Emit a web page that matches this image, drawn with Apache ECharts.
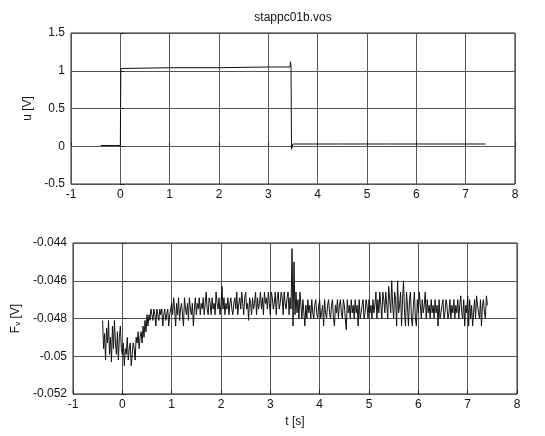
<!DOCTYPE html>
<html>
<head>
<meta charset="utf-8">
<script src="https://cdn.jsdelivr.net/npm/echarts@6/dist/echarts.min.js"></script>
<style>
html,body{margin:0;padding:0;background:#fff;}
#chart{width:545px;height:436px;}
</style>
</head>
<body>
<div id="chart"></div>
<script>
// ---- data ----
var titleText = 'stappc01b.vos';
var xTicks = [-1, 0, 1, 2, 3, 4, 5, 6, 7, 8];
var uTicks = [-0.5, 0, 0.5, 1, 1.5];
var fvTicks = [-0.052, -0.05, -0.048, -0.046, -0.044];

// control voltage u [V] (step at t=0, step down at t~3.46)
var uTime  = [-0.40, 0.00, 0.01, 1.00, 2.00, 3.00, 3.44, 3.45, 3.46, 3.47, 3.50, 4.50, 5.50, 6.50, 7.40];
var uValue = [0.01, 0.01, 1.03, 1.04, 1.04, 1.05, 1.05, 1.12, 1.05, -0.04, 0.03, 0.03, 0.03, 0.03, 0.03];

// measured signal F_v [V], sampled every 0.02 s starting at t = -0.40 s
var fvStart = -0.40;
var fvStep = 0.02;
var fvValue = [
 // -0.40 .. -0.02
 -0.0481,-0.0496,-0.0488,-0.0502,-0.0485,-0.0493,-0.0481,-0.0499,-0.0490,-0.0503,
 -0.0484,-0.0496,-0.0481,-0.0493,-0.0499,-0.0487,-0.0502,-0.0490,-0.0484,-0.0496,
 // 0.00 .. 0.28
 -0.0499,-0.0493,-0.0505,-0.0496,-0.0499,-0.0490,-0.0502,-0.0496,-0.0493,-0.0505,
 -0.0499,-0.0493,-0.0496,-0.0502,-0.0490,
 // 0.30 .. 0.44
 -0.0493,-0.0487,-0.0496,-0.0490,-0.0487,-0.0493,-0.0484,-0.0490,
 // 0.46 .. 0.56
 -0.0481,-0.0487,-0.0478,-0.0484,-0.0478,-0.0481,
 // 0.58 .. 0.98
 -0.0475,-0.0478,-0.0481,-0.0475,-0.0478,-0.0484,-0.0475,-0.0478,-0.0481,-0.0475,
 -0.0478,-0.0475,-0.0484,-0.0478,-0.0475,-0.0481,-0.0478,-0.0475,-0.0484,-0.0478,
 -0.0475,
 // 1.00 .. 3.42
 -0.0472,-0.0478,-0.0469,-0.0475,-0.0484,-0.0472,-0.0478,-0.0469,-0.0481,-0.0475,
 -0.0472,-0.0478,-0.0484,-0.0469,-0.0475,-0.0478,-0.0472,-0.0481,-0.0469,-0.0475,
 -0.0478,-0.0472,-0.0484,-0.0475,-0.0469,-0.0478,-0.0472,-0.0475,-0.0469,-0.0478,
 -0.0472,-0.0475,-0.0469,-0.0478,-0.0472,-0.0466,-0.0475,-0.0478,-0.0469,-0.0472,
 -0.0478,-0.0469,-0.0475,-0.0472,-0.0478,-0.0466,-0.0472,-0.0475,-0.0469,-0.0478,
 -0.0472,-0.0463,-0.0475,-0.0469,-0.0478,-0.0472,-0.0475,-0.0469,-0.0478,-0.0472,
 -0.0469,-0.0475,-0.0478,-0.0472,-0.0469,-0.0475,-0.0466,-0.0478,-0.0472,-0.0469,
 -0.0475,-0.0466,-0.0472,-0.0478,-0.0469,-0.0466,-0.0475,-0.0472,-0.0481,-0.0469,
 -0.0472,-0.0478,-0.0469,-0.0475,-0.0472,-0.0466,-0.0478,-0.0469,-0.0475,-0.0472,
 -0.0466,-0.0475,-0.0469,-0.0478,-0.0466,-0.0472,-0.0469,-0.0475,-0.0466,-0.0472,
 -0.0478,-0.0466,-0.0469,-0.0475,-0.0472,-0.0466,-0.0478,-0.0469,-0.0466,-0.0475,
 -0.0472,-0.0466,-0.0469,-0.0478,-0.0466,-0.0472,-0.0475,-0.0469,-0.0466,-0.0478,
 -0.0469,-0.0475,
 // 3.44 .. 3.50 (spike)
 -0.0443,-0.0484,-0.0450,-0.0478,
 // 3.52 .. 7.40
 -0.0466,-0.0477,-0.0470,-0.0480,-0.0466,-0.0473,-0.0480,-0.0470,-0.0477,-0.0484,
 -0.0473,-0.0480,-0.0470,-0.0477,-0.0473,-0.0480,-0.0470,-0.0477,-0.0480,-0.0473,
 -0.0470,-0.0477,-0.0480,-0.0473,-0.0470,-0.0480,-0.0477,-0.0473,-0.0484,-0.0470,
 -0.0477,-0.0480,-0.0473,-0.0470,-0.0477,-0.0480,-0.0473,-0.0470,-0.0480,-0.0484,
 -0.0473,-0.0477,-0.0470,-0.0480,-0.0473,-0.0470,-0.0477,-0.0480,-0.0470,-0.0473,
 -0.0480,-0.0486,-0.0470,-0.0477,-0.0473,-0.0480,-0.0470,-0.0477,-0.0473,-0.0480,
 -0.0470,-0.0477,-0.0473,-0.0484,-0.0470,-0.0480,-0.0477,-0.0473,-0.0470,-0.0480,
 -0.0477,-0.0470,-0.0473,-0.0480,-0.0470,-0.0477,-0.0473,-0.0480,-0.0470,-0.0477,
 -0.0473,-0.0466,-0.0480,-0.0470,-0.0477,-0.0466,-0.0473,-0.0480,-0.0466,-0.0470,
 -0.0477,-0.0466,-0.0473,-0.0480,-0.0463,-0.0470,-0.0477,-0.0460,-0.0473,-0.0480,
 -0.0466,-0.0470,-0.0484,-0.0460,-0.0477,-0.0473,-0.0466,-0.0484,-0.0470,-0.0460,
 -0.0477,-0.0484,-0.0466,-0.0473,-0.0484,-0.0470,-0.0466,-0.0480,-0.0484,-0.0473,
 -0.0466,-0.0480,-0.0484,-0.0470,-0.0477,-0.0466,-0.0473,-0.0480,-0.0470,-0.0477,
 -0.0473,-0.0466,-0.0480,-0.0470,-0.0477,-0.0473,-0.0480,-0.0470,-0.0477,-0.0473,
 -0.0480,-0.0470,-0.0477,-0.0473,-0.0484,-0.0470,-0.0480,-0.0477,-0.0473,-0.0470,
 -0.0480,-0.0477,-0.0470,-0.0473,-0.0480,-0.0477,-0.0470,-0.0480,-0.0473,-0.0477,
 -0.0470,-0.0480,-0.0473,-0.0477,-0.0470,-0.0480,-0.0473,-0.0468,-0.0477,-0.0480,
 -0.0470,-0.0484,-0.0473,-0.0477,-0.0468,-0.0484,-0.0470,-0.0480,-0.0473,-0.0484,
 -0.0477,-0.0470,-0.0480,-0.0468,-0.0473,-0.0477,-0.0480,-0.0470,-0.0484,-0.0473,
 -0.0470,-0.0477,-0.0480,-0.0468,-0.0473
];

// ---- build ----
var FONT = '"Liberation Sans", Arial, Helvetica, sans-serif';
var uData = uTime.map(function (t, i) { return [t, uValue[i]]; });
var fvData = fvValue.map(function (v, i) { return [+(fvStart + i * fvStep).toFixed(2), v]; });

function fmt(v) { return String(parseFloat(Number(v).toFixed(4))); }

var gridLine = { show: true, lineStyle: { color: '#555', width: 1, type: 'solid' } };
var labelStyle = { color: '#111', fontSize: 12, fontFamily: FONT };

function xAxisCfg(gi, extra) {
  var c = {
    type: 'value', gridIndex: gi, min: xTicks[0], max: xTicks[xTicks.length - 1], interval: 1,
    axisLine: { show: false }, axisTick: { show: true, inside: true, length: 4, lineStyle: { color: '#222' } },
    splitLine: gridLine,
    axisLabel: Object.assign({ margin: 5, formatter: fmt }, labelStyle)
  };
  return Object.assign(c, extra || {});
}
function yAxisCfg(gi, ticks, interval, extra) {
  var c = {
    type: 'value', gridIndex: gi, min: ticks[0], max: ticks[ticks.length - 1], interval: interval,
    axisLine: { show: false }, axisTick: { show: true, inside: true, length: 4, lineStyle: { color: '#222' } },
    splitLine: gridLine,
    axisLabel: Object.assign({ margin: 6, formatter: fmt }, labelStyle)
  };
  return Object.assign(c, extra || {});
}

var chart = echarts.init(document.getElementById('chart'), null, { renderer: 'canvas' });
chart.setOption({
  animation: false,
  backgroundColor: '#fff',
  title: {
    text: titleText, left: 288, top: 7, textAlign: 'center',
    textStyle: { fontSize: 12, fontWeight: 'normal', color: '#111', fontFamily: FONT }
  },
  grid: [
    { left: 71, top: 33, width: 444, height: 151, show: true, borderColor: '#222', borderWidth: 1, backgroundColor: '#fff' },
    { left: 73, top: 243, width: 444, height: 151, show: true, borderColor: '#222', borderWidth: 1, backgroundColor: '#fff' }
  ],
  xAxis: [
    xAxisCfg(0),
    xAxisCfg(1, {
      name: 't [s]', nameLocation: 'middle', nameGap: 22,
      nameTextStyle: { color: '#111', fontSize: 12, fontFamily: FONT }
    })
  ],
  yAxis: [
    yAxisCfg(0, uTicks, 0.5, {
      name: 'u [V]', nameLocation: 'middle', nameGap: 27, nameRotate: 90,
      nameTextStyle: { color: '#111', fontSize: 12, fontFamily: FONT }
    }),
    yAxisCfg(1, fvTicks, 0.002, {
      name: '{a|F}{b|v}{a| [V]}', nameLocation: 'middle', nameGap: 38, nameRotate: 90,
      nameTextStyle: {
        color: '#111', fontSize: 12, fontFamily: FONT,
        rich: {
          a: { fontSize: 12, fontFamily: FONT, color: '#111' },
          b: { fontSize: 8, fontFamily: FONT, color: '#111', verticalAlign: 'bottom', padding: [5, 0, 0, 0] }
        }
      }
    })
  ],
  series: [
    {
      type: 'line', xAxisIndex: 0, yAxisIndex: 0, data: uData, showSymbol: false,
      lineStyle: { color: '#111', width: 1 }, z: 5
    },
    {
      type: 'line', xAxisIndex: 1, yAxisIndex: 1, data: fvData, showSymbol: false,
      lineStyle: { color: '#111', width: 1 }, z: 5
    }
  ]
});
</script>
</body>
</html>
